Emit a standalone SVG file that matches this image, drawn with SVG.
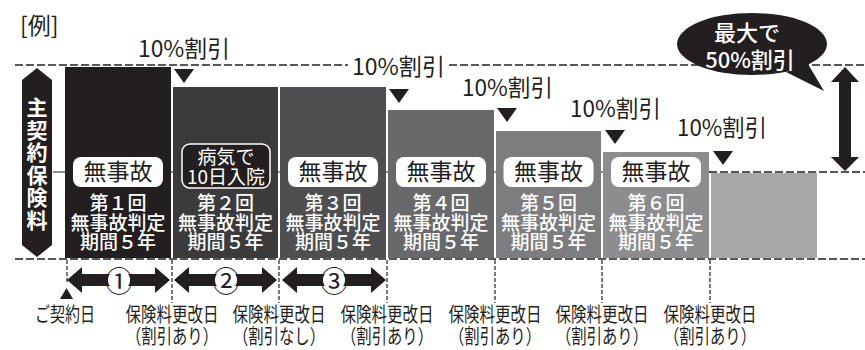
<svg xmlns="http://www.w3.org/2000/svg" width="865" height="350" viewBox="0 0 865 350">
<style>
text{font-family:"Noto Sans CJK JP","Noto Sans CJK SC",sans-serif;fill:#231f20}
.pct{font-size:23px}
.w{fill:#fff}
.pilltxt{font-size:23px;font-weight:normal;text-anchor:middle}
.sub{font-size:19px;font-weight:500;text-anchor:middle;fill:#fff}
.lbl{font-size:20px;text-anchor:middle}
.dash{stroke:#231f20;stroke-width:1.5;stroke-dasharray:8 3;fill:none}
.vdash{stroke:#231f20;stroke-width:1.2;stroke-dasharray:4 2;fill:none}
.tri{fill:#231f20}
.pill{fill:#fff}
.num{font-size:28px;text-anchor:middle;dominant-baseline:central}
</style>
<rect width="865" height="350" fill="#fff"/>
<text x="20" y="34" font-size="23">[例]</text>
<g id="connectors">
<line x1="53" y1="172" x2="711" y2="172" stroke="#231f20" stroke-width="1.2"/>
<line class="dash" x1="709" y1="172" x2="865" y2="172"/>
<line class="dash" x1="15" y1="65" x2="348" y2="65"/>
<line class="dash" x1="449" y1="65" x2="865" y2="65"/>
<line class="dash" x1="15" y1="259" x2="865" y2="259"/>
<line class="vdash" x1="67" y1="260" x2="67" y2="284"/>
<line class="vdash" x1="172" y1="260" x2="172" y2="303"/>
<line class="vdash" x1="279" y1="260" x2="279" y2="303"/>
<line class="vdash" x1="387" y1="260" x2="387" y2="303"/>
<line class="vdash" x1="495" y1="260" x2="495" y2="303"/>
<line class="vdash" x1="602" y1="260" x2="602" y2="303"/>
<line class="vdash" x1="710" y1="260" x2="710" y2="303"/>
<polygon class="tri" points="174,69 194,69 184,83"/>
<polygon class="tri" points="389,89 409,89 399,103"/>
<polygon class="tri" points="497,108 517,108 507,122"/>
<polygon class="tri" points="605,130 625,130 615,144"/>
<polygon class="tri" points="713,151 733,151 723,165"/>
<polygon class="tri" points="60,299 73,299 66.5,288"/>
<polygon class="tri" points="845,67 859,82 851,82 851,157 859,157 845,171 831,157 839,157 839,82 831,82"/>
<polygon class="tri" points="67,280 82,267 82,274 155,274 155,267 170,280 155,293 155,286 82,286 82,293"/>
<polygon class="tri" points="174,280 189,267 189,274 262,274 262,267 277,280 262,293 262,286 189,286 189,293"/>
<polygon class="tri" points="282,280 297,267 297,274 371,274 371,267 386,280 371,293 371,286 297,286 297,293"/>
</g>
<g id="label-main">
<polygon points="22,80 37,68 52,80 52,245 37,257 22,245" fill="#231f20"/>
<text class="w" x="37" y="97" font-size="21" font-weight="bold" writing-mode="vertical-rl" letter-spacing="1.5">主契約保険料</text>
</g>
<g id="bar1">
<rect x="65" y="67" width="106" height="191" fill="#231f20"/>
<rect class="pill" x="73" y="157" width="90" height="30" rx="8"/>
<text class="pilltxt" x="118" y="180">無事故</text>
<text class="sub"><tspan x="118" y="210">第１回</tspan><tspan x="118" y="230">無事故判定</tspan><tspan x="118" y="249">期間５年</tspan></text>
</g>
<g id="bar2">
<rect x="173" y="87" width="105" height="171" fill="#3b3b3c"/>
<rect x="182" y="144" width="88" height="44" rx="8" fill="#231f20" stroke="#fff" stroke-width="1.5"/>
<text class="w" font-size="19" text-anchor="middle"><tspan x="226" y="164">病気で</tspan><tspan x="226" y="184">10日入院</tspan></text>
<text class="sub"><tspan x="225.5" y="210">第２回</tspan><tspan x="225.5" y="230">無事故判定</tspan><tspan x="225.5" y="249">期間５年</tspan></text>
</g>
<g id="bar3">
<rect x="280" y="87" width="106" height="171" fill="#4f4f51"/>
<rect class="pill" x="288" y="157" width="90" height="30" rx="8"/>
<text class="pilltxt" x="333" y="180">無事故</text>
<text class="sub"><tspan x="333" y="210">第３回</tspan><tspan x="333" y="230">無事故判定</tspan><tspan x="333" y="249">期間５年</tspan></text>
</g>
<g id="bar4">
<rect x="388" y="110" width="106" height="148" fill="#69696b"/>
<rect class="pill" x="396" y="157" width="90" height="30" rx="8"/>
<text class="pilltxt" x="441" y="180">無事故</text>
<text class="sub"><tspan x="441" y="210">第４回</tspan><tspan x="441" y="230">無事故判定</tspan><tspan x="441" y="249">期間５年</tspan></text>
</g>
<g id="bar5">
<rect x="496" y="131" width="105" height="127" fill="#7d7d7f"/>
<rect class="pill" x="503.5" y="157" width="90" height="30" rx="8"/>
<text class="pilltxt" x="548.5" y="180">無事故</text>
<text class="sub"><tspan x="548.5" y="210">第５回</tspan><tspan x="548.5" y="230">無事故判定</tspan><tspan x="548.5" y="249">期間５年</tspan></text>
</g>
<g id="bar6">
<rect x="603" y="152" width="106" height="106" fill="#8d8d8f"/>
<rect class="pill" x="611" y="157" width="90" height="30" rx="8"/>
<text class="pilltxt" x="656" y="180">無事故</text>
<text class="sub"><tspan x="656" y="210">第６回</tspan><tspan x="656" y="230">無事故判定</tspan><tspan x="656" y="249">期間５年</tspan></text>
</g>
<g id="bar7">
<rect x="711" y="173" width="106" height="85" fill="#a8a8aa"/>
</g>
<g id="discounts">
<text class="pct" x="138" y="57" textLength="92" lengthAdjust="spacingAndGlyphs">10%割引</text>
<text class="pct" x="352" y="75" textLength="93" lengthAdjust="spacingAndGlyphs">10%割引</text>
<text class="pct" x="462" y="96" textLength="91" lengthAdjust="spacingAndGlyphs">10%割引</text>
<text class="pct" x="570" y="117" textLength="91" lengthAdjust="spacingAndGlyphs">10%割引</text>
<text class="pct" x="677" y="136" textLength="90" lengthAdjust="spacingAndGlyphs">10%割引</text>
</g>
<g id="bubble">
<ellipse cx="752" cy="44" rx="75" ry="31" fill="#231f20"/>
<polygon points="786,72 808,64 824,91" fill="#231f20"/>
<text class="w" font-size="22" font-weight="500" text-anchor="middle"><tspan x="747" y="41">最大で</tspan><tspan x="750" y="68">50%割引</tspan></text>
</g>
<g id="periods">
<circle cx="119" cy="280" r="11" fill="#fff"/>
<text class="num" x="119" y="280">①</text>
<circle cx="226" cy="280" r="11" fill="#fff"/>
<text class="num" x="226" y="280">②</text>
<circle cx="334" cy="280" r="11" fill="#fff"/>
<text class="num" x="334" y="280">③</text>
</g>
<g id="dates">
<text class="lbl" x="65" y="322" textLength="60" lengthAdjust="spacingAndGlyphs">ご契約日</text>
<text class="lbl" x="172" y="322" textLength="93" lengthAdjust="spacingAndGlyphs">保険料更改日</text>
<text class="lbl" x="172" y="344" textLength="92" lengthAdjust="spacingAndGlyphs">（割引あり）</text>
<text class="lbl" x="279" y="322" textLength="93" lengthAdjust="spacingAndGlyphs">保険料更改日</text>
<text class="lbl" x="279" y="344" textLength="92" lengthAdjust="spacingAndGlyphs">（割引なし）</text>
<text class="lbl" x="387" y="322" textLength="93" lengthAdjust="spacingAndGlyphs">保険料更改日</text>
<text class="lbl" x="387" y="344" textLength="92" lengthAdjust="spacingAndGlyphs">（割引あり）</text>
<text class="lbl" x="495" y="322" textLength="93" lengthAdjust="spacingAndGlyphs">保険料更改日</text>
<text class="lbl" x="495" y="344" textLength="92" lengthAdjust="spacingAndGlyphs">（割引あり）</text>
<text class="lbl" x="602" y="322" textLength="93" lengthAdjust="spacingAndGlyphs">保険料更改日</text>
<text class="lbl" x="602" y="344" textLength="92" lengthAdjust="spacingAndGlyphs">（割引あり）</text>
<text class="lbl" x="710" y="322" textLength="93" lengthAdjust="spacingAndGlyphs">保険料更改日</text>
<text class="lbl" x="710" y="344" textLength="92" lengthAdjust="spacingAndGlyphs">（割引あり）</text>
</g>
</svg>
